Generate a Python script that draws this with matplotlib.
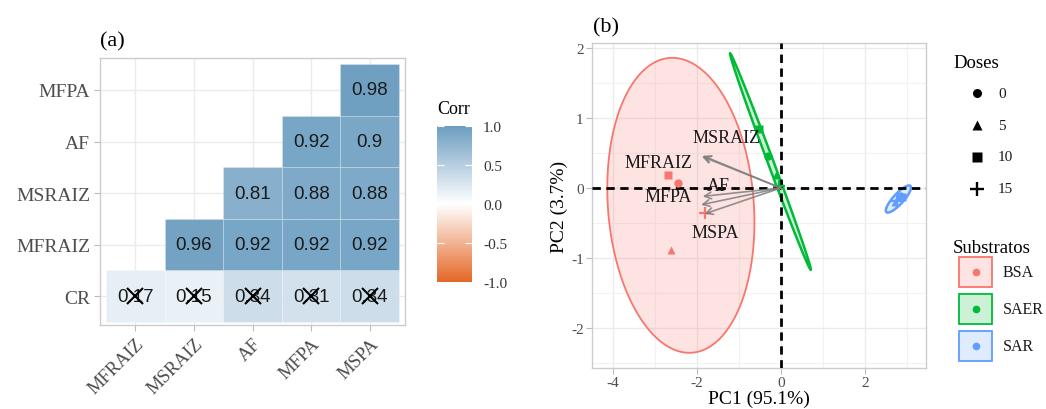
import numpy as np
import matplotlib
matplotlib.use("Agg")
import matplotlib.pyplot as plt
from matplotlib.colors import LinearSegmentedColormap, Normalize
from matplotlib.patches import Rectangle, Polygon
from matplotlib.cm import ScalarMappable

plt.rcParams['font.family'] = ['Liberation Serif', 'DejaVu Serif']
plt.rcParams['axes.unicode_minus'] = False

W, H = 1046, 410

# ── Data ──────────────────────────────────────────────────────────────────────

# (a) correlation matrix (lower triangle, rows bottom -> top)
row_vars = ["CR", "MFRAIZ", "MSRAIZ", "AF", "MFPA"]
col_vars = ["MFRAIZ", "MSRAIZ", "AF", "MFPA", "MSPA"]
nan = np.nan
corr = np.array([
    [0.17, 0.15, 0.34, 0.31, 0.34],
    [nan,  0.96, 0.92, 0.92, 0.92],
    [nan,  nan,  0.81, 0.88, 0.88],
    [nan,  nan,  nan,  0.92, 0.90],
    [nan,  nan,  nan,  nan,  0.98],
])
not_signif = np.array([
    [1, 1, 1, 1, 1],
    [0, 0, 0, 0, 0],
    [0, 0, 0, 0, 0],
    [0, 0, 0, 0, 0],
    [0, 0, 0, 0, 0],
], dtype=bool)

# (b) PCA scores: doses 0, 5, 10, 15 for each substrate
doses = ["0", "5", "10", "15"]
substrates = ["BSA", "SAER", "SAR"]
pc1_bsa = [-2.44, -2.61, -2.68, -1.80]
pc2_bsa = [0.07, -0.88, 0.18, -0.36]
pc1_saer = [-0.31, -0.11, -0.53, -0.04]
pc2_saer = [0.45, 0.19, 0.84, 0.03]
pc1_sar = [2.83, 2.72, 2.88, 2.78]
pc2_sar = [-0.11, -0.20, -0.13, -0.19]

# variable loadings (arrows)
var_names = ["MFRAIZ", "MSRAIZ", "AF", "MFPA", "MSPA"]
var_pc1 = [-1.88, -1.86, -1.86, -1.90, -1.82]
var_pc2 = [0.45, 0.46, -0.12, -0.24, -0.37]

pc1_pct, pc2_pct = 95.1, 3.7

# ── Styling ───────────────────────────────────────────────────────────────────

SUB_COLORS = {"BSA": "#F8766D", "SAER": "#00BA38", "SAR": "#619CFF"}
DOSE_MARKERS = {"0": "o", "5": "^", "10": "s", "15": "P"}
GREY_TXT = "#4D4D4D"
GRID = "#EBEBEB"

cmap = LinearSegmentedColormap.from_list("corr", ["#E46726", "#FFFFFF", "#6D9EC1"])
norm = Normalize(-1, 1)


def px_axes(fig, l, t, r, b):
    return fig.add_axes([l / W, 1 - b / H, (r - l) / W, (b - t) / H])


fig = plt.figure(figsize=(W / 100, H / 100), dpi=100)

# ── (a) correlation heatmap ──────────────────────────────────────────────────

ax = px_axes(fig, 100, 59, 405, 326)
ax.set_xlim(-0.6, 4.6)
ax.set_ylim(-0.56, 4.62)
for i in range(len(col_vars)):
    ax.axvline(i, color=GRID, lw=1, zorder=0)
for j in range(len(row_vars)):
    ax.axhline(j, color=GRID, lw=1, zorder=0)

for j in range(len(row_vars)):
    for i in range(len(col_vars)):
        v = corr[j, i]
        if np.isnan(v):
            continue
        ax.add_patch(Rectangle((i - 0.5, j - 0.5), 1, 1, facecolor=cmap(norm(v)),
                               edgecolor=(1, 1, 1, 0.25), lw=0.6, zorder=1))
        ax.text(i, j, f"{v:g}", ha="center", va="center", fontsize=13.5,
                family=["Liberation Sans", "DejaVu Sans"], color="#1a1a1a", zorder=2)
        if not_signif[j, i]:
            ax.plot(i, j, marker="x", color="black", ms=11, mew=1.5, zorder=3)

ax.set_xticks(range(len(col_vars)))
ax.set_xticklabels(col_vars, rotation=45, ha="right", rotation_mode="anchor",
                   fontsize=13.5, color=GREY_TXT)
ax.set_yticks(range(len(row_vars)))
ax.set_yticklabels(row_vars, fontsize=14, color=GREY_TXT)
ax.tick_params(length=4, color="#BBBBBB", pad=3)
for s in ax.spines.values():
    s.set_color("#CCCCCC")
    s.set_linewidth(1)
fig.text(100 / W, 1 - 42 / H, "(a)", fontsize=16, ha="left", va="center")

# colour bar
cax = px_axes(fig, 437, 127, 472, 283)
cb = fig.colorbar(ScalarMappable(norm=norm, cmap=cmap), cax=cax)
cb.outline.set_visible(False)
cb.set_ticks([-1, -0.5, 0, 0.5, 1])
cb.set_ticklabels(["-1.0", "-0.5", "0.0", "0.5", "1.0"])
cax.tick_params(left=True, right=True, direction="in", length=5, color="white",
                width=0.8, labelsize=11, labelcolor="#333333", pad=8)
fig.text(437 / W, 1 - 110 / H, "Corr", fontsize=13, ha="left", va="center")

# ── (b) PCA biplot ───────────────────────────────────────────────────────────

bx = px_axes(fig, 592, 44, 926, 369)
bx.set_xlim(-4.5, 3.46)
bx.set_ylim(-2.57, 2.07)
bx.set_xticks([-4, -2, 0, 2])
bx.set_yticks([-2, -1, 0, 1, 2])
bx.set_xticks([-3, -1, 1, 3], minor=True)
bx.set_yticks([-2.5, -1.5, -0.5, 0.5, 1.5], minor=True)
bx.grid(True, which="major", color=GRID, lw=1)
bx.grid(True, which="minor", color="#F2F2F2", lw=0.8)
bx.set_axisbelow(True)
bx.tick_params(which="major", length=4, color="#BBBBBB", labelsize=11,
               labelcolor=GREY_TXT, pad=2)
bx.tick_params(which="minor", length=0)
for s in bx.spines.values():
    s.set_color("#CCCCCC")
    s.set_linewidth(1)


def t_ellipse(x, y, level=0.95, n_pts=200):
    """Same construction as ggplot2 stat_ellipse (multivariate t)."""
    xy = np.column_stack([x, y])
    n = len(xy)
    center = xy.mean(axis=0)
    shape = np.cov(xy, rowvar=False)
    dfd = n - 1
    # F quantile with 2 numerator df has a closed form
    fq = (dfd / 2) * ((1 - level) ** (-2 / dfd) - 1)
    radius = np.sqrt(2 * fq)
    chol = np.linalg.cholesky(shape).T
    ang = np.linspace(0, 2 * np.pi, n_pts)
    circ = np.column_stack([np.cos(ang), np.sin(ang)])
    return center + radius * circ @ chol


scores = {
    "BSA": (pc1_bsa, pc2_bsa),
    "SAER": (pc1_saer, pc2_saer),
    "SAR": (pc1_sar, pc2_sar),
}
for sub in substrates:
    x, y = scores[sub]
    c = SUB_COLORS[sub]
    ell = t_ellipse(x, y)
    bx.add_patch(Polygon(ell, closed=True, facecolor=c, alpha=0.2, edgecolor="none", zorder=1))
    bx.add_patch(Polygon(ell, closed=True, facecolor="none", edgecolor=c,
                         lw=1.3 if sub == "BSA" else 1.8, zorder=2))
    for k, d in enumerate(doses):
        m = DOSE_MARKERS[d]
        if m == "P":
            bx.plot(x[k], y[k], marker="+", color=c, ms=8, mew=1.6, ls="none", zorder=4)
        else:
            bx.plot(x[k], y[k], marker=m, color=c, ms=6, ls="none", mec="none", zorder=4)

bx.axhline(0, color="black", ls=(0, (3, 2)), lw=2, zorder=3)
bx.axvline(0, color="black", ls=(0, (3, 2)), lw=2, zorder=3)

label_offset = {"MFRAIZ": (-1.03, -0.08), "MSRAIZ": (0.57, 0.26), "AF": (0.37, 0.16),
                "MFPA": (-0.78, 0.12), "MSPA": (0.26, -0.26)}
for name, vx, vy in zip(var_names, var_pc1, var_pc2):
    bx.annotate("", xy=(vx, vy), xytext=(0, 0),
                arrowprops=dict(arrowstyle="->", color="#7F7F7F", lw=1.2, alpha=0.85,
                                shrinkA=0, shrinkB=0, mutation_scale=12), zorder=5)
    dx, dy = label_offset[name]
    bx.text(vx + dx, vy + dy, name, fontsize=13, ha="center", va="center",
            color="#1a1a1a", zorder=6)

bx.set_xlabel(f"PC1 ({pc1_pct}%)", fontsize=14, labelpad=0)
bx.set_ylabel(f"PC2 ({pc2_pct}%)", fontsize=14, labelpad=2)
fig.text(593 / W, 1 - 28 / H, "(b)", fontsize=16, ha="left", va="center")

# ── legends (drawn in pixel space) ───────────────────────────────────────────

lg = fig.add_axes([0, 0, 1, 1], facecolor="none")
lg.set_xlim(0, W)
lg.set_ylim(H, 0)
lg.axis("off")

lg.text(953, 63, "Doses", fontsize=13.5, ha="left", va="center")
for k, d in enumerate(doses):
    yy = 94 + k * 32
    m = DOSE_MARKERS[d]
    if m == "P":
        lg.plot(977, yy, marker="+", color="black", ms=10, mew=1.7)
    else:
        lg.plot(977, yy, marker=m, color="black", ms=6.5, mec="none")
    lg.text(998, yy, d, fontsize=11, ha="left", va="center", color="#1a1a1a")

lg.text(953, 249, "Substratos", fontsize=13.5, ha="left", va="center")
for k, sub in enumerate(substrates):
    yy = 273 + k * 37
    c = SUB_COLORS[sub]
    lg.add_patch(Rectangle((959, yy - 15), 33, 30, facecolor=c, alpha=0.2, edgecolor="none"))
    lg.add_patch(Rectangle((959, yy - 15), 33, 30, facecolor="none", edgecolor=c, lw=1.3))
    lg.plot(975.5, yy, marker="o", color=c, ms=5.5, mec="none")
    lg.text(1003, yy, sub, fontsize=11.5, ha="left", va="center", color="#1a1a1a")

fig.savefig("out.png", dpi=100)
